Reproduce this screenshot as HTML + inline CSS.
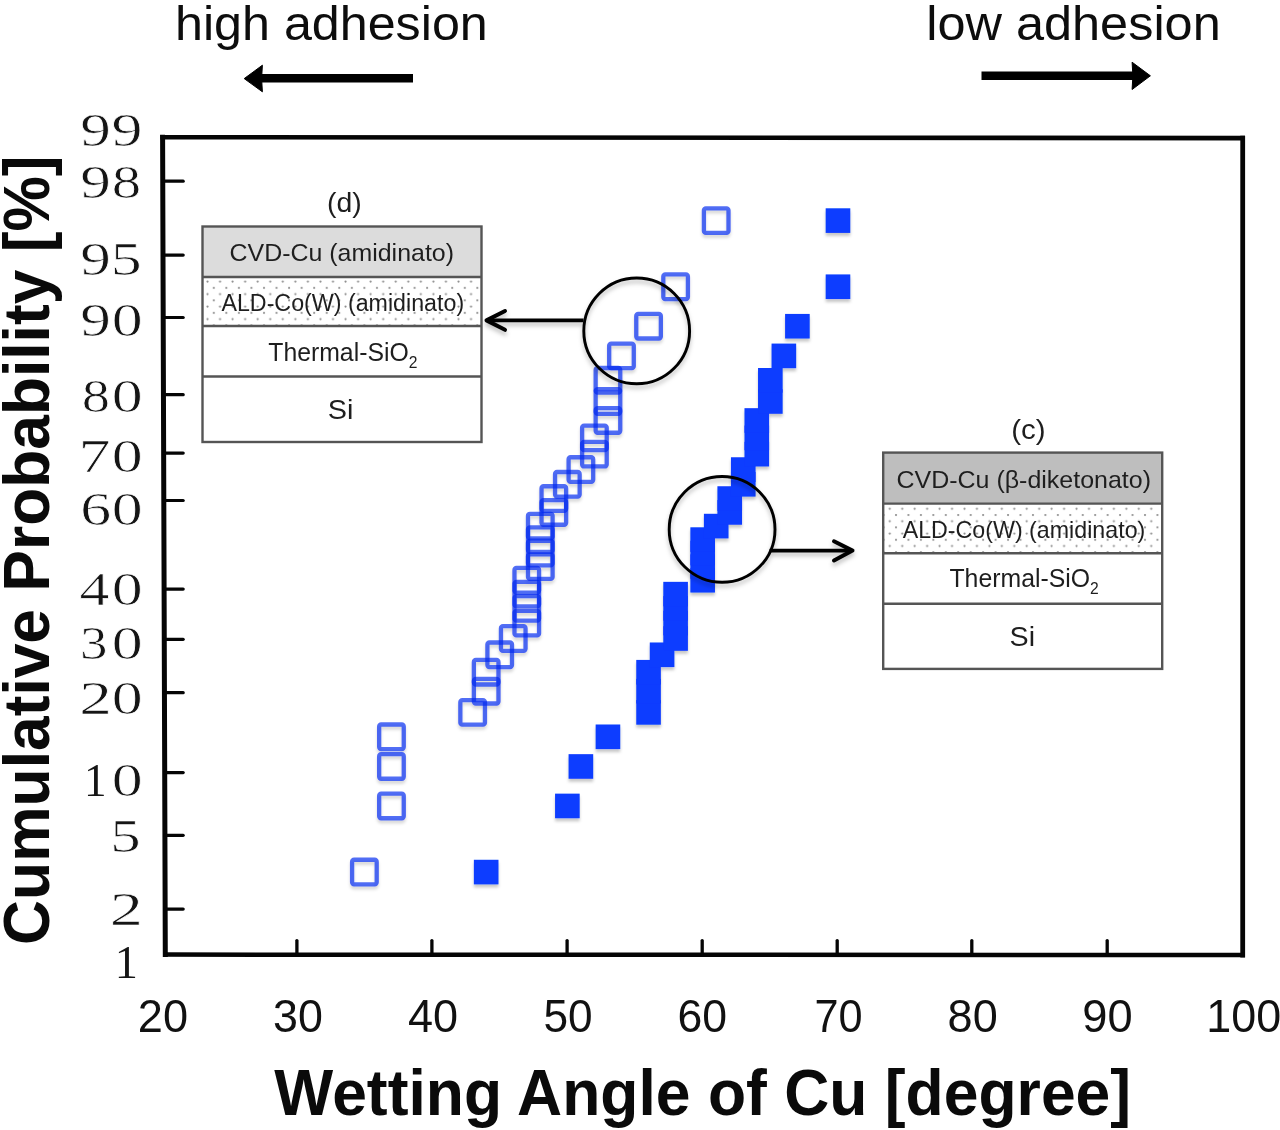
<!DOCTYPE html>
<html><head><meta charset="utf-8"><title>Cumulative probability of Cu wetting angle</title>
<style>
html,body{margin:0;padding:0;background:#fff;}
body{width:1280px;height:1130px;overflow:hidden;font-family:"Liberation Sans", sans-serif;}
svg{display:block;filter:blur(0.4px);}
</style></head>
<body>
<svg width="1280" height="1130" viewBox="0 0 1280 1130">
<defs>
<filter id="sh" x="-10%" y="-10%" width="120%" height="130%"><feDropShadow dx="0" dy="3" stdDeviation="1.6" flood-color="#000" flood-opacity="0.22"/></filter>
<filter id="sh2" x="-10%" y="-10%" width="120%" height="130%"><feDropShadow dx="0" dy="3.5" stdDeviation="2.2" flood-color="#000" flood-opacity="0.25"/></filter>
<pattern id="dotsd" patternUnits="userSpaceOnUse" width="12.55" height="12.5" x="206" y="280.1">
<circle cx="1.5" cy="1.5" r="1.1" fill="#8c8c8c"/>
<circle cx="7.8" cy="7.75" r="1.1" fill="#8c8c8c"/>
</pattern>
<pattern id="dotsc" patternUnits="userSpaceOnUse" width="12.45" height="12.4" x="888.3" y="507.3">
<circle cx="1.5" cy="1.5" r="1.1" fill="#8c8c8c"/>
<circle cx="7.7" cy="7.7" r="1.1" fill="#8c8c8c"/>
</pattern>
</defs>
<rect width="1280" height="1130" fill="#fff"/>
<text transform="translate(174.98,39.60) scale(1.0253,1)" font-family='"Liberation Sans", sans-serif' font-weight="normal" font-size="49" fill="#0d0d0d" >high adhesion</text>
<text transform="translate(926.30,39.80) scale(1.0292,1)" font-family='"Liberation Sans", sans-serif' font-weight="normal" font-size="49" fill="#0d0d0d" >low adhesion</text>
<path d="M413,78.3 L259,78.3" stroke="#000" stroke-width="8.6" fill="none"/>
<path d="M244.2,78.6 L262.4,65.2 L261.6,78.5 L262.4,91.8 Z" fill="#000" stroke="#000" stroke-width="1" stroke-linejoin="round"/>
<path d="M981.5,75.8 L1136,75.8" stroke="#000" stroke-width="8.6" fill="none"/>
<path d="M1150.4,75.8 L1132.1,62.2 L1132.9,75.8 L1132.1,89.5 Z" fill="#000" stroke="#000" stroke-width="1" stroke-linejoin="round"/>
<path d="M162.6,137.2 L1242.7,138.1" stroke="#050505" stroke-width="4.6" fill="none" stroke-linecap="square"/>
<path d="M1242.7,138.1 L1242.7,955" stroke="#050505" stroke-width="4.8" fill="none" stroke-linecap="square"/>
<path d="M165.3,954.6 L1242.7,955" stroke="#050505" stroke-width="4.5" fill="none" stroke-linecap="square"/>
<path d="M162.6,137.2 L165.3,954.6" stroke="#050505" stroke-width="5" fill="none" stroke-linecap="square"/>
<path d="M162.7,181.2 L183.2,181.2" stroke="#050505" stroke-width="3.2" stroke-linecap="round"/>
<path d="M163.0,255.1 L183.2,255.1" stroke="#050505" stroke-width="3.2" stroke-linecap="round"/>
<path d="M163.2,317.5 L183.2,317.5" stroke="#050505" stroke-width="3.2" stroke-linecap="round"/>
<path d="M163.5,394.7 L183.2,394.7" stroke="#050505" stroke-width="3.2" stroke-linecap="round"/>
<path d="M163.6,453.1 L183.2,453.1" stroke="#050505" stroke-width="3.2" stroke-linecap="round"/>
<path d="M163.8,500.5 L183.2,500.5" stroke="#050505" stroke-width="3.2" stroke-linecap="round"/>
<path d="M164.1,589.1 L183.2,589.1" stroke="#050505" stroke-width="3.2" stroke-linecap="round"/>
<path d="M164.3,639.3 L183.2,639.3" stroke="#050505" stroke-width="3.2" stroke-linecap="round"/>
<path d="M164.4,692.7 L183.2,692.7" stroke="#050505" stroke-width="3.2" stroke-linecap="round"/>
<path d="M164.7,772.6 L183.2,772.6" stroke="#050505" stroke-width="3.2" stroke-linecap="round"/>
<path d="M164.9,835.3 L183.2,835.3" stroke="#050505" stroke-width="3.2" stroke-linecap="round"/>
<path d="M165.1,909.1 L183.2,909.1" stroke="#050505" stroke-width="3.2" stroke-linecap="round"/>
<path d="M296.9,954 L296.9,940.6" stroke="#050505" stroke-width="3.3" stroke-linecap="round"/>
<path d="M431.9,954 L431.9,940.6" stroke="#050505" stroke-width="3.3" stroke-linecap="round"/>
<path d="M567.1,954 L567.1,940.6" stroke="#050505" stroke-width="3.3" stroke-linecap="round"/>
<path d="M702.2,954 L702.2,940.6" stroke="#050505" stroke-width="3.3" stroke-linecap="round"/>
<path d="M837.2,954 L837.2,940.6" stroke="#050505" stroke-width="3.3" stroke-linecap="round"/>
<path d="M971.8,954 L971.8,940.6" stroke="#050505" stroke-width="3.3" stroke-linecap="round"/>
<path d="M1107.2,954 L1107.2,940.6" stroke="#050505" stroke-width="3.3" stroke-linecap="round"/>
<text transform="translate(80.31,146.44) scale(1.3323,1)" font-family='"Liberation Serif", serif' font-weight="normal" font-size="46" fill="#151515" stroke="#fff" stroke-width="0.75" vector-effect="non-scaling-stroke">9</text>
<text transform="translate(111.49,146.44) scale(1.3476,1)" font-family='"Liberation Serif", serif' font-weight="normal" font-size="46" fill="#151515" stroke="#fff" stroke-width="0.75" vector-effect="non-scaling-stroke">9</text>
<text transform="translate(80.31,198.44) scale(1.3323,1)" font-family='"Liberation Serif", serif' font-weight="normal" font-size="46" fill="#151515" stroke="#fff" stroke-width="0.75" vector-effect="non-scaling-stroke">9</text>
<text transform="translate(111.79,198.44) scale(1.2788,1)" font-family='"Liberation Serif", serif' font-weight="normal" font-size="46" fill="#151515" stroke="#fff" stroke-width="0.75" vector-effect="non-scaling-stroke">8</text>
<text transform="translate(80.31,274.74) scale(1.3323,1)" font-family='"Liberation Serif", serif' font-weight="normal" font-size="46" fill="#151515" stroke="#fff" stroke-width="0.75" vector-effect="non-scaling-stroke">9</text>
<text transform="translate(110.74,274.74) scale(1.3449,1)" font-family='"Liberation Serif", serif' font-weight="normal" font-size="46" fill="#151515" stroke="#fff" stroke-width="0.75" vector-effect="non-scaling-stroke">5</text>
<text transform="translate(80.31,335.84) scale(1.3323,1)" font-family='"Liberation Serif", serif' font-weight="normal" font-size="46" fill="#151515" stroke="#fff" stroke-width="0.75" vector-effect="non-scaling-stroke">9</text>
<text transform="translate(111.78,335.84) scale(1.3453,1)" font-family='"Liberation Serif", serif' font-weight="normal" font-size="46" fill="#151515" stroke="#fff" stroke-width="0.75" vector-effect="non-scaling-stroke">0</text>
<text transform="translate(81.68,412.34) scale(1.2276,1)" font-family='"Liberation Serif", serif' font-weight="normal" font-size="46" fill="#151515" stroke="#fff" stroke-width="0.75" vector-effect="non-scaling-stroke">8</text>
<text transform="translate(111.78,412.34) scale(1.3453,1)" font-family='"Liberation Serif", serif' font-weight="normal" font-size="46" fill="#151515" stroke="#fff" stroke-width="0.75" vector-effect="non-scaling-stroke">0</text>
<text transform="translate(78.43,471.84) scale(1.3956,1)" font-family='"Liberation Serif", serif' font-weight="normal" font-size="46" fill="#151515" stroke="#fff" stroke-width="0.75" vector-effect="non-scaling-stroke">7</text>
<text transform="translate(111.78,471.84) scale(1.3453,1)" font-family='"Liberation Serif", serif' font-weight="normal" font-size="46" fill="#151515" stroke="#fff" stroke-width="0.75" vector-effect="non-scaling-stroke">0</text>
<text transform="translate(80.37,525.14) scale(1.3476,1)" font-family='"Liberation Serif", serif' font-weight="normal" font-size="46" fill="#151515" stroke="#fff" stroke-width="0.75" vector-effect="non-scaling-stroke">6</text>
<text transform="translate(111.78,525.14) scale(1.3453,1)" font-family='"Liberation Serif", serif' font-weight="normal" font-size="46" fill="#151515" stroke="#fff" stroke-width="0.75" vector-effect="non-scaling-stroke">0</text>
<text transform="translate(79.40,604.64) scale(1.2997,1)" font-family='"Liberation Serif", serif' font-weight="normal" font-size="46" fill="#151515" stroke="#fff" stroke-width="0.75" vector-effect="non-scaling-stroke">4</text>
<text transform="translate(111.78,604.64) scale(1.3453,1)" font-family='"Liberation Serif", serif' font-weight="normal" font-size="46" fill="#151515" stroke="#fff" stroke-width="0.75" vector-effect="non-scaling-stroke">0</text>
<text transform="translate(79.99,658.94) scale(1.1963,1)" font-family='"Liberation Serif", serif' font-weight="normal" font-size="46" fill="#151515" stroke="#fff" stroke-width="0.75" vector-effect="non-scaling-stroke">3</text>
<text transform="translate(111.78,658.94) scale(1.3453,1)" font-family='"Liberation Serif", serif' font-weight="normal" font-size="46" fill="#151515" stroke="#fff" stroke-width="0.75" vector-effect="non-scaling-stroke">0</text>
<text transform="translate(79.16,714.04) scale(1.4185,1)" font-family='"Liberation Serif", serif' font-weight="normal" font-size="46" fill="#151515" stroke="#fff" stroke-width="0.75" vector-effect="non-scaling-stroke">2</text>
<text transform="translate(111.78,714.04) scale(1.3453,1)" font-family='"Liberation Serif", serif' font-weight="normal" font-size="46" fill="#151515" stroke="#fff" stroke-width="0.75" vector-effect="non-scaling-stroke">0</text>
<text transform="translate(84.05,796.14) scale(0.9806,1)" font-family='"Liberation Serif", serif' font-weight="normal" font-size="46" fill="#151515" >1</text>
<text transform="translate(111.78,796.14) scale(1.3453,1)" font-family='"Liberation Serif", serif' font-weight="normal" font-size="46" fill="#151515" stroke="#fff" stroke-width="0.75" vector-effect="non-scaling-stroke">0</text>
<text transform="translate(110.20,851.54) scale(1.3233,1)" font-family='"Liberation Serif", serif' font-weight="normal" font-size="46" fill="#151515" stroke="#fff" stroke-width="0.75" vector-effect="non-scaling-stroke">5</text>
<text transform="translate(109.72,924.74) scale(1.4402,1)" font-family='"Liberation Serif", serif' font-weight="normal" font-size="46" fill="#151515" stroke="#fff" stroke-width="0.75" vector-effect="non-scaling-stroke">2</text>
<text transform="translate(114.75,977.64) scale(1.0052,1)" font-family='"Liberation Serif", serif' font-weight="normal" font-size="46" fill="#151515" >1</text>
<text transform="translate(137.84,1032.00) scale(0.9930,1)" font-family='"Liberation Sans", sans-serif' font-weight="normal" font-size="45.5" fill="#111" >20</text>
<text transform="translate(273.12,1032.00) scale(0.9853,1)" font-family='"Liberation Sans", sans-serif' font-weight="normal" font-size="45.5" fill="#111" >30</text>
<text transform="translate(407.89,1032.00) scale(0.9901,1)" font-family='"Liberation Sans", sans-serif' font-weight="normal" font-size="45.5" fill="#111" >40</text>
<text transform="translate(543.53,1032.00) scale(0.9707,1)" font-family='"Liberation Sans", sans-serif' font-weight="normal" font-size="45.5" fill="#111" >50</text>
<text transform="translate(677.47,1032.00) scale(0.9801,1)" font-family='"Liberation Sans", sans-serif' font-weight="normal" font-size="45.5" fill="#111" >60</text>
<text transform="translate(814.43,1032.00) scale(0.9502,1)" font-family='"Liberation Sans", sans-serif' font-weight="normal" font-size="45.5" fill="#111" >70</text>
<text transform="translate(947.59,1032.00) scale(0.9901,1)" font-family='"Liberation Sans", sans-serif' font-weight="normal" font-size="45.5" fill="#111" >80</text>
<text transform="translate(1082.35,1032.00) scale(0.9949,1)" font-family='"Liberation Sans", sans-serif' font-weight="normal" font-size="45.5" fill="#111" >90</text>
<text transform="translate(1206.33,1032.00) scale(0.9865,1)" font-family='"Liberation Sans", sans-serif' font-weight="normal" font-size="45.5" fill="#111" >100</text>
<text transform="translate(274.34,1114.50) scale(0.9684,1)" font-family='"Liberation Sans", sans-serif' font-weight="bold" font-size="64.5" fill="#0a0a0a" >Wetting Angle of Cu [degree]</text>
<text transform="translate(48.6,944.89) rotate(-90) scale(0.9665,1)" font-family='"Liberation Sans", sans-serif' font-weight="bold" font-size="64.5" fill="#0a0a0a">Cumulative Probability [%]</text>
<g fill="#0a3cff" filter="url(#sh)">
<rect x="473.87" y="859.77" width="24.6" height="24.6"/>
<rect x="555.06" y="793.65" width="24.6" height="24.6"/>
<rect x="568.59" y="754.16" width="24.6" height="24.6"/>
<rect x="595.65" y="724.50" width="24.6" height="24.6"/>
<rect x="636.25" y="700.08" width="24.6" height="24.6"/>
<rect x="636.25" y="678.89" width="24.6" height="24.6"/>
<rect x="636.25" y="659.91" width="24.6" height="24.6"/>
<rect x="649.78" y="642.49" width="24.6" height="24.6"/>
<rect x="663.31" y="626.22" width="24.6" height="24.6"/>
<rect x="663.31" y="610.83" width="24.6" height="24.6"/>
<rect x="663.31" y="596.09" width="24.6" height="24.6"/>
<rect x="663.31" y="581.84" width="24.6" height="24.6"/>
<rect x="690.37" y="567.94" width="24.6" height="24.6"/>
<rect x="690.37" y="554.29" width="24.6" height="24.6"/>
<rect x="690.37" y="540.77" width="24.6" height="24.6"/>
<rect x="690.37" y="527.31" width="24.6" height="24.6"/>
<rect x="703.90" y="513.79" width="24.6" height="24.6"/>
<rect x="717.43" y="500.14" width="24.6" height="24.6"/>
<rect x="717.43" y="486.24" width="24.6" height="24.6"/>
<rect x="730.96" y="471.99" width="24.6" height="24.6"/>
<rect x="730.96" y="457.25" width="24.6" height="24.6"/>
<rect x="744.49" y="441.86" width="24.6" height="24.6"/>
<rect x="744.49" y="425.59" width="24.6" height="24.6"/>
<rect x="744.49" y="408.17" width="24.6" height="24.6"/>
<rect x="758.03" y="389.19" width="24.6" height="24.6"/>
<rect x="758.03" y="368.00" width="24.6" height="24.6"/>
<rect x="771.56" y="343.58" width="24.6" height="24.6"/>
<rect x="785.09" y="313.92" width="24.6" height="24.6"/>
<rect x="825.68" y="274.43" width="24.6" height="24.6"/>
<rect x="825.68" y="208.31" width="24.6" height="24.6"/>
</g>
<g filter="url(#sh)"><g fill="none" stroke="rgb(0,40,240)" stroke-opacity="0.68" stroke-width="4.3">
<rect x="352.10" y="859.77" width="24.6" height="24.6" rx="2"/>
<rect x="379.16" y="793.65" width="24.6" height="24.6" rx="2"/>
<rect x="379.16" y="754.16" width="24.6" height="24.6" rx="2"/>
<rect x="379.16" y="724.50" width="24.6" height="24.6" rx="2"/>
<rect x="460.34" y="700.08" width="24.6" height="24.6" rx="2"/>
<rect x="473.87" y="678.89" width="24.6" height="24.6" rx="2"/>
<rect x="473.87" y="659.91" width="24.6" height="24.6" rx="2"/>
<rect x="487.40" y="642.49" width="24.6" height="24.6" rx="2"/>
<rect x="500.94" y="626.22" width="24.6" height="24.6" rx="2"/>
<rect x="514.47" y="610.83" width="24.6" height="24.6" rx="2"/>
<rect x="514.47" y="596.09" width="24.6" height="24.6" rx="2"/>
<rect x="514.47" y="581.84" width="24.6" height="24.6" rx="2"/>
<rect x="514.47" y="567.94" width="24.6" height="24.6" rx="2"/>
<rect x="528.00" y="554.29" width="24.6" height="24.6" rx="2"/>
<rect x="528.00" y="540.77" width="24.6" height="24.6" rx="2"/>
<rect x="528.00" y="527.31" width="24.6" height="24.6" rx="2"/>
<rect x="528.00" y="513.79" width="24.6" height="24.6" rx="2"/>
<rect x="541.53" y="500.14" width="24.6" height="24.6" rx="2"/>
<rect x="541.53" y="486.24" width="24.6" height="24.6" rx="2"/>
<rect x="555.06" y="471.99" width="24.6" height="24.6" rx="2"/>
<rect x="568.59" y="457.25" width="24.6" height="24.6" rx="2"/>
<rect x="582.12" y="441.86" width="24.6" height="24.6" rx="2"/>
<rect x="582.12" y="425.59" width="24.6" height="24.6" rx="2"/>
<rect x="595.65" y="408.17" width="24.6" height="24.6" rx="2"/>
<rect x="595.65" y="389.19" width="24.6" height="24.6" rx="2"/>
<rect x="595.65" y="368.00" width="24.6" height="24.6" rx="2"/>
<rect x="609.18" y="343.58" width="24.6" height="24.6" rx="2"/>
<rect x="636.25" y="313.92" width="24.6" height="24.6" rx="2"/>
<rect x="663.31" y="274.43" width="24.6" height="24.6" rx="2"/>
<rect x="703.90" y="208.31" width="24.6" height="24.6" rx="2"/>
</g></g>
<g filter="url(#sh2)">
<circle cx="636.7" cy="330.9" r="52.9" fill="none" stroke="#000" stroke-width="2.9"/>
<path d="M583.5,320.4 L487,320.4" stroke="#000" stroke-width="3.6" fill="none"/>
<path d="M505,311 L486.5,320.4 L505,329.8" stroke="#000" stroke-width="4" fill="none" stroke-linecap="round" stroke-linejoin="round"/>
<circle cx="722.1" cy="529.4" r="52.9" fill="none" stroke="#000" stroke-width="2.9"/>
<path d="M769.5,550.6 L851,550.6" stroke="#000" stroke-width="3.6" fill="none"/>
<path d="M834,541.3 L852.5,550.6 L834,560.5" stroke="#000" stroke-width="4" fill="none" stroke-linecap="round" stroke-linejoin="round"/>
</g>
<rect x="202.5" y="226.5" width="279.0" height="50.5" fill="#dcdcdc"/>
<rect x="202.5" y="277" width="279.0" height="49" fill="#fff"/>
<rect x="202.5" y="277" width="279.0" height="49" fill="url(#dotsd)"/>
<rect x="202.5" y="326" width="279.0" height="116" fill="#fff"/>
<text transform="translate(229.55,261.20) scale(1.0225,1)" font-family='"Liberation Sans", sans-serif' font-weight="normal" font-size="24.4" fill="#1e1e1e" >CVD-Cu (amidinato)</text>
<text transform="translate(221.44,311.00) scale(1.0107,1)" font-family='"Liberation Sans", sans-serif' font-weight="normal" font-size="23" fill="#1e1e1e" >ALD-Co(W) (amidinato)</text>
<text transform="translate(268.24,361.00) scale(0.9726,1)" font-family='"Liberation Sans", sans-serif' font-size="25.5" fill="#1e1e1e">Thermal-SiO<tspan font-size="16.1" dy="6.6">2</tspan></text>
<text transform="translate(327.80,419.30) scale(1.0109,1)" font-family='"Liberation Sans", sans-serif' font-weight="normal" font-size="28.5" fill="#1e1e1e" >Si</text>
<rect x="202.5" y="226.5" width="279.0" height="215.5" fill="none" stroke="#555" stroke-width="2.4"/>
<path d="M202.5,277 L481.5,277" stroke="#555" stroke-width="2.4"/>
<path d="M202.5,326 L481.5,326" stroke="#555" stroke-width="2.4"/>
<path d="M202.5,376.5 L481.5,376.5" stroke="#555" stroke-width="2.4"/>
<text transform="translate(327.02,211.80) scale(1.0338,1)" font-family='"Liberation Sans", sans-serif' font-weight="normal" font-size="27.5" fill="#1e1e1e" >(d)</text>
<rect x="883.2" y="452.6" width="279.0" height="51.0" fill="#bebebe"/>
<rect x="883.2" y="503.6" width="279.0" height="49.69999999999993" fill="#fff"/>
<rect x="883.2" y="503.6" width="279.0" height="49.69999999999993" fill="url(#dotsc)"/>
<rect x="883.2" y="553.3" width="279.0" height="115.60000000000002" fill="#fff"/>
<text transform="translate(896.45,487.60) scale(1.0161,1)" font-family='"Liberation Sans", sans-serif' font-weight="normal" font-size="24.6" fill="#1e1e1e" >CVD-Cu (β-diketonato)</text>
<text transform="translate(902.64,537.60) scale(1.0103,1)" font-family='"Liberation Sans", sans-serif' font-weight="normal" font-size="23" fill="#1e1e1e" >ALD-Co(W) (amidinato)</text>
<text transform="translate(949.44,587.00) scale(0.9739,1)" font-family='"Liberation Sans", sans-serif' font-size="25.5" fill="#1e1e1e">Thermal-SiO<tspan font-size="16.1" dy="6.6">2</tspan></text>
<text transform="translate(1009.51,645.50) scale(1.0064,1)" font-family='"Liberation Sans", sans-serif' font-weight="normal" font-size="28.5" fill="#1e1e1e" >Si</text>
<rect x="883.2" y="452.6" width="279.0" height="216.29999999999995" fill="none" stroke="#555" stroke-width="2.4"/>
<path d="M883.2,503.6 L1162.2,503.6" stroke="#555" stroke-width="2.4"/>
<path d="M883.2,553.3 L1162.2,553.3" stroke="#555" stroke-width="2.4"/>
<path d="M883.2,603.8 L1162.2,603.8" stroke="#555" stroke-width="2.4"/>
<text transform="translate(1011.26,439.30) scale(1.0734,1)" font-family='"Liberation Sans", sans-serif' font-weight="normal" font-size="27.5" fill="#1e1e1e" >(c)</text>
</svg>
</body></html>
